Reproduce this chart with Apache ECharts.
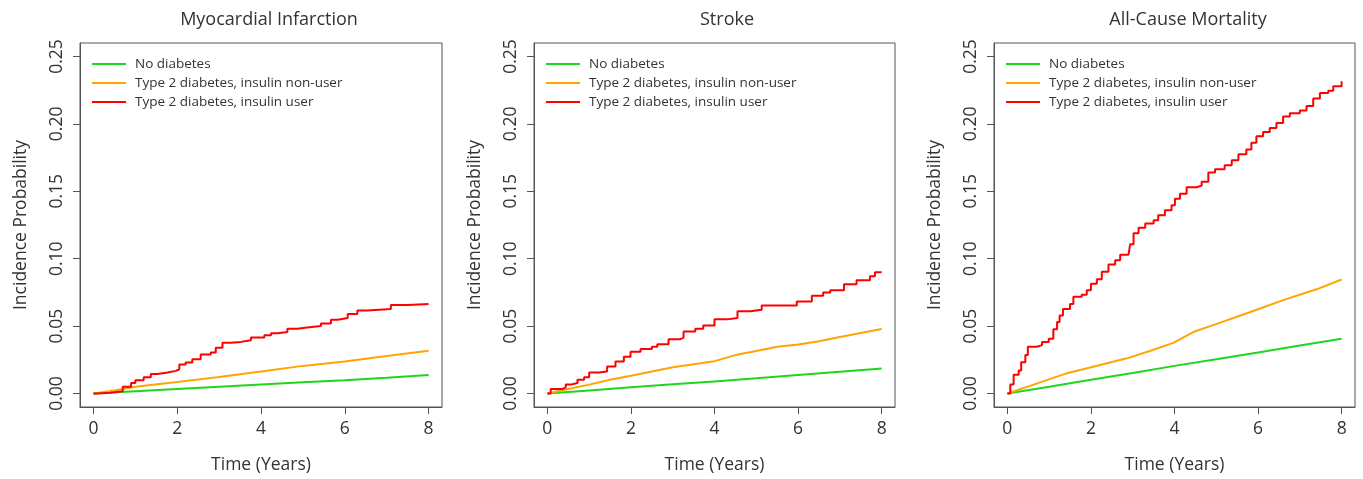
<!DOCTYPE html>
<html>
<head>
<meta charset="utf-8">
<script src="https://cdn.jsdelivr.net/npm/echarts@6/dist/echarts.min.js"></script>
<style>
html,body{margin:0;padding:0;background:#fff;}
#chart{width:1363px;height:479px;}
</style>
</head>
<body>
<div id="chart"></div>
<script>
// ---- Data ----
const panelTitles = ['Myocardial Infarction', 'Stroke', 'All-Cause Mortality'];
const seriesNames = ['No diabetes', 'Type 2 diabetes, insulin non-user', 'Type 2 diabetes, insulin user'];
const xTicks = [0, 2, 4, 6, 8];
const yTicks = [0, 0.05, 0.10, 0.15, 0.20, 0.25];

// Myocardial infarction
const miNoDiab = [[0,0],[1,0.0017],[2,0.0034],[3,0.005],[4,0.0066],[5,0.0083],[6,0.0098],[7,0.0117],[8,0.0137]];
const miNonUser = [[0,0],[0.5,0.0022],[1,0.005],[2,0.0085],[3,0.0122],[4,0.0163],[5,0.0205],[6,0.0237],[7,0.0278],[8,0.0317]];
const miUser = [[0,0],[0.1,0.0005],[0.4,0.0017],[0.7,0.005],[0.9,0.0078],[1.0,0.0098],[1.2,0.012],[1.37,0.0144],[1.53,0.0156],[1.77,0.0168],[1.97,0.018],[2.05,0.0215],[2.2,0.023],[2.36,0.0254],[2.56,0.029],[2.8,0.0305],[2.92,0.034],[3.08,0.0376],[3.28,0.0383],[3.52,0.0395],[3.76,0.0415],[4.08,0.0432],[4.24,0.0447],[4.4,0.0456],[4.63,0.048],[4.87,0.049],[5.1,0.05],[5.43,0.052],[5.67,0.0547],[5.83,0.056],[6.07,0.059],[6.3,0.0615],[6.54,0.0627],[7.1,0.0656],[7.5,0.0664],[8,0.0664]];

// Stroke
const stNoDiab = [[0,0],[1,0.0023],[2,0.0046],[3,0.0068],[4,0.009],[5,0.0113],[6,0.0138],[7,0.0161],[8,0.0185]];
const stNonUser = [[0,0],[0.5,0.0034],[1,0.0066],[1.5,0.0102],[2,0.0132],[2.5,0.0163],[3,0.0195],[3.5,0.0217],[4,0.024],[4.5,0.0285],[5,0.0315],[5.5,0.0347],[6,0.0364],[6.5,0.0388],[7,0.042],[8,0.0478]];
const stUser = [[0,0],[0.08,0.0034],[0.36,0.0046],[0.44,0.0066],[0.56,0.0078],[0.72,0.0102],[0.88,0.012],[1.0,0.0156],[1.23,0.0163],[1.43,0.02],[1.63,0.0237],[1.83,0.0273],[1.99,0.031],[2.23,0.033],[2.5,0.0347],[2.63,0.0366],[2.9,0.0403],[3.18,0.0415],[3.26,0.046],[3.54,0.048],[3.73,0.0505],[4.0,0.055],[4.3,0.056],[4.55,0.061],[4.86,0.0622],[5.13,0.0652],[5.97,0.0683],[6.33,0.0725],[6.6,0.075],[6.77,0.0766],[7.1,0.081],[7.4,0.084],[7.72,0.087],[7.84,0.09],[8,0.09]];

// All-cause mortality
const moNoDiab = [[0,0],[1,0.005],[2,0.0102],[3,0.0153],[4,0.0205],[5,0.0255],[6,0.0305],[7,0.0356],[8,0.0407]];
const moNonUser = [[0,0],[0.63,0.0066],[1.43,0.0151],[2.22,0.0212],[2.86,0.0261],[3.41,0.0315],[3.97,0.0376],[4.45,0.0456],[5.01,0.0517],[5.8,0.0603],[6.6,0.0693],[7.4,0.0773],[8,0.0846]];
const moUser = [[0,0],[0.07,0.0066],[0.15,0.0139],[0.27,0.0171],[0.33,0.0232],[0.43,0.0285],[0.49,0.0347],[0.71,0.0359],[0.83,0.0383],[0.99,0.0407],[1.1,0.0476],[1.19,0.053],[1.25,0.0578],[1.33,0.0627],[1.5,0.0664],[1.58,0.0717],[1.78,0.0732],[1.9,0.0766],[2.0,0.0815],[2.14,0.0847],[2.26,0.0903],[2.42,0.0957],[2.58,0.0988],[2.7,0.103],[2.9,0.1042],[2.94,0.1108],[3.02,0.1188],[3.14,0.123],[3.3,0.1262],[3.5,0.1286],[3.61,0.1323],[3.77,0.1359],[3.93,0.1396],[4.01,0.1445],[4.13,0.1481],[4.29,0.153],[4.53,0.1542],[4.65,0.1571],[4.81,0.164],[4.97,0.1664],[5.2,0.1694],[5.37,0.173],[5.53,0.1774],[5.72,0.181],[5.84,0.186],[5.96,0.1908],[6.12,0.194],[6.28,0.1969],[6.44,0.2006],[6.6,0.2055],[6.76,0.2079],[7.0,0.2099],[7.16,0.2133],[7.32,0.2189],[7.48,0.223],[7.68,0.2245],[7.8,0.2279],[8,0.2316]];

const panelData = [
  [miNoDiab, miNonUser, miUser],
  [stNoDiab, stNonUser, stUser],
  [moNoDiab, moNonUser, moUser]
];

// ---- Styling / layout ----
const colors = ['#1fd61f', '#ffa500', '#ff0000'];
const FONT = '"Open Sans", "Noto Sans", sans-serif';
const TXT = '#333333';
const AX = '#555555';
const gridLefts = [80, 534, 994];
const gridWidths = [362, 361, 361];
const titleCenters = [264, 722, 1183];

const grids = [], xAxes = [], yAxes = [], series = [], titles = [], legends = [];
for (let p = 0; p < 3; p++) {
  grids.push({left: gridLefts[p], top: 43, width: gridWidths[p], height: 368,
    show: true, borderColor: AX, borderWidth: 1, backgroundColor: 'transparent', containLabel: false});
  xAxes.push({type: 'value', gridIndex: p, min: -0.32, max: 8.32,
    splitLine: {show: false}, axisLine: {show: true, onZero: false, lineStyle: {color: AX, width: 1}},
    axisTick: {show: true, inside: false, length: 7, lineStyle: {color: AX, width: 1}, customValues: xTicks},
    axisLabel: {customValues: xTicks, margin: 13, color: TXT, fontFamily: FONT, fontSize: 17.5},
    name: 'Time (Years)', nameLocation: 'middle', nameGap: 49,
    nameTextStyle: {color: TXT, fontFamily: FONT, fontSize: 17.5}});
  yAxes.push({type: 'value', gridIndex: p, min: -0.01, max: 0.26,
    splitLine: {show: false}, axisLine: {show: true, onZero: false, lineStyle: {color: AX, width: 1}},
    axisTick: {show: true, inside: false, length: 7, lineStyle: {color: AX, width: 1}, customValues: yTicks},
    axisLabel: {customValues: yTicks, rotate: 90, margin: 14, color: TXT, fontFamily: FONT, fontSize: 17.5,
      formatter: v => v.toFixed(2)},
    name: 'Incidence Probability', nameLocation: 'middle', nameGap: 50, nameRotate: 90,
    nameTextStyle: {color: TXT, fontFamily: FONT, fontSize: 17.5}});
  titles.push({text: panelTitles[p], left: titleCenters[p], top: 6, textAlign: 'center',
    textStyle: {color: TXT, fontFamily: FONT, fontSize: 18, fontWeight: 'normal'}});
  for (let s = 0; s < 3; s++) {
    series.push({type: 'line', name: seriesNames[s], xAxisIndex: p, yAxisIndex: p,
      data: panelData[p][s], showSymbol: false, symbol: 'none',
      step: s === 2 ? 'end' : false, z: 2 + s,
      lineStyle: {color: colors[s], width: 2}, itemStyle: {color: colors[s]}});
  }
  legends.push({orient: 'vertical', left: gridLefts[p] + 12, top: 57, padding: 0,
    icon: 'rect', itemWidth: 34, itemHeight: 2, itemGap: 5, selectedMode: false,
    data: seriesNames,
    textStyle: {color: TXT, fontFamily: FONT, fontSize: 13.5, padding: [0, 0, 0, 4], lineHeight: 13}});
}

const chart = echarts.init(document.getElementById('chart'), null, {renderer: 'canvas'});
chart.setOption({
  animation: false,
  backgroundColor: '#fff',
  color: colors,
  title: titles,
  legend: legends,
  grid: grids,
  xAxis: xAxes,
  yAxis: yAxes,
  series: series
});
</script>
</body>
</html>
